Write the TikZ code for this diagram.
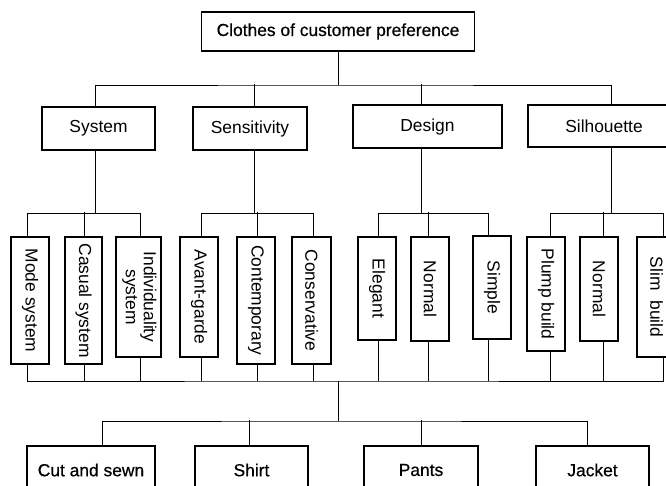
\documentclass[tikz,border=0pt]{standalone}
\usepackage{fontspec}
\setmainfont{Liberation Sans}
\newfontfamily\heavyfont[FakeBold=0.6]{Liberation Sans}
\begin{document}
\begin{tikzpicture}[x=1pt,y=-1pt,line width=1pt,
  every node/.style={font=\fontsize{17.4}{18}\selectfont},
  box/.style={draw,line width=1.1pt,inner sep=0pt,rectangle,align=center},
  heavybox/.style={box,font=\heavyfont\fontsize{17.4}{18}\selectfont},
  conn/.style={draw,line width=1pt}]
\useasboundingbox (0,0) rectangle (666,485);
\fill[white] (0,0) rectangle (666,485);
\clip (0,0) rectangle (666,485);

% level 0
\node[heavybox,minimum width=273pt,minimum height=39pt] (top) at (338,31.5) {Clothes of customer preference};
% level 1
\node[box,minimum width=113pt,minimum height=43pt] (sys)  at (98.5,128.5) {System};
\node[box,minimum width=114pt,minimum height=43pt] (sens) at (250,128.5) {Sensitivity};
\node[box,minimum width=149pt,minimum height=43pt] (des)  at (427.5,126.5) {Design};
\node[box,minimum width=152pt,minimum height=42pt] (silh) at (604,126) {Silhouette};
% level 2
\node[box,minimum width=38pt,minimum height=127pt] (mode)  at (30,300.5)  {\rotatebox{-90}{Mode system}};
\node[box,minimum width=37pt,minimum height=127pt] (cas)   at (83.5,300.5) {\rotatebox{-90}{Casual system}};
\node[box,minimum width=45pt,minimum height=120pt] (ind)   at (138.5,297) {\rotatebox{-90}{\begin{tabular}{@{}c@{}}Individuality\\system\end{tabular}}};
\node[box,minimum width=38pt,minimum height=120pt] (avant) at (199,297)   {\rotatebox{-90}{Avant-garde}};
\node[box,minimum width=38pt,minimum height=127pt] (cont)  at (256,300.5) {\rotatebox{-90}{Contemporary}};
\node[box,minimum width=39pt,minimum height=127pt] (cons)  at (311.5,300.5) {\rotatebox{-90}{Conservative}};
\node[box,minimum width=38pt,minimum height=103pt] (eleg)  at (377,288.5) {\rotatebox{-90}{Elegant}};
\node[box,minimum width=38pt,minimum height=104pt] (norm)  at (430,289)   {\rotatebox{-90}{Normal}};
\node[box,minimum width=38pt,minimum height=103pt] (simp)  at (492,287.5) {\rotatebox{-90}{Simple}};
\node[box,minimum width=38pt,minimum height=114pt] (plump) at (546,294)   {\rotatebox{-90}{Plump build}};
\node[box,minimum width=38pt,minimum height=104pt] (normb) at (599,289)   {\rotatebox{-90}{Normal}};
\node[box,minimum width=39pt,minimum height=120pt] (slim)  at (656.5,297) {\rotatebox{-90}{Slim\ \ build}};
% level 3
\node[heavybox,minimum width=128pt,minimum height=48pt] (cut)    at (91,470)    {Cut and sewn};
\node[heavybox,minimum width=113pt,minimum height=48pt] (shirt)  at (251.5,470) {Shirt};
\node[heavybox,minimum width=114pt,minimum height=48pt] (pants)  at (421,470)   {Pants};
\node[heavybox,minimum width=113pt,minimum height=48pt] (jacket) at (592.5,470) {Jacket};

% junctions
\coordinate (j0) at (338,85);
\coordinate (jB) at (338,381);
\coordinate (jC) at (338,421);

% level 0 -> 1
\draw[conn] (top.south) -- (j0);
\draw[conn] ([xshift=-3.5pt]sys.north) |- (j0) -| ([xshift=7pt]silh.north);
\draw[conn] ([xshift=4pt]sens.north) -- ++(0,-22);
\draw[conn] ([xshift=-6.5pt]des.north) -- ++(0,-20);

% level 1 -> 2
\draw[conn] ([xshift=-3.5pt]sys.south) -- ++(0,63) coordinate (jS);
\draw[conn] ([xshift=-3pt]mode.north) |- (jS) -| ([xshift=1.5pt]ind.north);
\draw[conn] ([xshift=0.5pt]cas.north) -- ++(0,-24);

\draw[conn] ([xshift=4pt]sens.south) -- ++(0,63) coordinate (jT);
\draw[conn] ([xshift=2pt]avant.north) |- (jT) -| ([xshift=1.5pt]cons.north);
\draw[conn] ([xshift=1pt]cont.north) -- ++(0,-24);

\draw[conn] ([xshift=-6.5pt]des.south) -- ++(0,65) coordinate (jD);
\draw[conn] ([xshift=1pt]eleg.north) |- (jD) -| ([xshift=-4pt]simp.north);
\draw[conn] ([xshift=-2pt]norm.north) -- ++(0,-24);

\draw[conn] ([xshift=7pt]silh.south) -- ++(0,66) coordinate (jH);
\draw[conn] ([xshift=4pt]plump.north) |- (jH) -| ([xshift=6.5pt]slim.north);
\draw[conn] ([xshift=4pt]normb.north) -- ++(0,-24);

% level 2 -> bottom bus
\draw[conn] ([xshift=-3pt]mode.south) |- (jB) -| ([xshift=6.5pt]slim.south);
\foreach \n/\d in {cas/0.5, ind/1.5, avant/2, cont/1, cons/1.5, eleg/1, norm/-2, simp/-4, plump/4, normb/4}{
  \path ([xshift=\d pt]\n.south) coordinate (tmp);
  \draw[conn] (tmp) -- (tmp |- jB);
}

% bottom bus -> level 3
\draw[conn] (jB) -- (jC);
\draw[conn] ([xshift=11pt]cut.north) |- (jC) -| ([xshift=-5.5pt]jacket.north);
\draw[conn] ([xshift=-2.5pt]shirt.north) -- ++(0,-25);
\draw[conn] (pants.north) -- ++(0,-25);
\end{tikzpicture}
\end{document}
